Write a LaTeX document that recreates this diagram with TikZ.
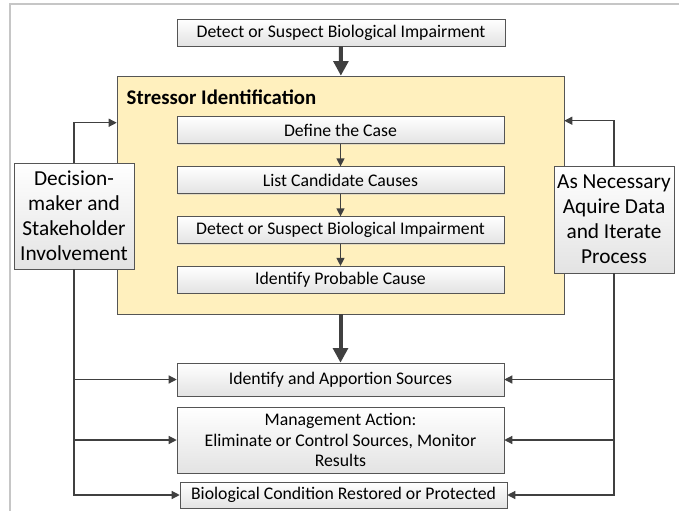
\documentclass[tikz,border=0pt]{standalone}
\usepackage{fontspec}
\setmainfont{Carlito}
\usepackage{tikz}
\usetikzlibrary{positioning, arrows.meta, shadows}

\definecolor{stressyellow}{HTML}{FFF0BE}
\definecolor{boxline}{HTML}{555555}
\definecolor{arrowgray}{HTML}{404040}

\begin{document}
\begin{tikzpicture}[x=0.75pt, y=-0.75pt,
			stepbox/.style={draw=boxline, top color=white, bottom color=gray!22, align=center,
				inner sep=1pt, font=\fontsize{13.3}{15.5}\selectfont,
				drop shadow={shadow xshift=1pt, shadow yshift=-1pt, fill=gray!45}},
			sidebox/.style={stepbox, font=\fontsize{16}{18.75}\selectfont},
			thin/.style={draw=arrowgray, line width=0.9pt, -{Triangle[length=6pt,width=6pt]}},
			fat/.style={draw=arrowgray, line width=3pt, -{Triangle[length=11pt,width=11pt]}},
			]
			\useasboundingbox (0,0) rectangle (679,511);
			\draw[gray!45, line width=2pt] (10,511) -- (10,4) -- (679,4);
			
			%% ── Top and stressor block ───────────────────────────────────────────
			\node[stepbox, minimum width=246pt, minimum height=20.25pt] (detect) at (341,32.5)
				{Detect or Suspect Biological Impairment};
			\node[draw=boxline, fill=stressyellow, minimum width=335.25pt, minimum height=178.5pt,
				drop shadow={shadow xshift=1pt, shadow yshift=-1pt, fill=gray!30}] (stressor) at (340.5,195) {};
			\node[anchor=west, font=\fontsize{15.6}{18}\bfseries] (title) at (122,97) {Stressor Identification};
			
			\node[stepbox, minimum width=245.25pt, minimum height=20pt] (define)   at (340.5,130)   {Define the Case};
			\node[stepbox, minimum width=245.25pt, minimum height=20pt] (list)     at (340.5,180)   {List Candidate Causes};
			\node[stepbox, minimum width=245.25pt, minimum height=20pt] (suspect)  at (340.5,230)   {Detect or Suspect Biological Impairment};
			\node[stepbox, minimum width=245.25pt, minimum height=20pt] (probable) at (340.5,279.5) {Identify Probable Cause};
			
			%% ── Side boxes ───────────────────────────────────────────────────────
			\node[sidebox, minimum width=90pt, minimum height=79.5pt] (decision) at (74,216)
				{Decision-\\maker and\\Stakeholder\\Involvement};
			\node[sidebox, minimum width=90pt, minimum height=80pt] (iterate) at (614,219.5)
				{As Necessary\\Aquire Data\\and Iterate\\Process};
			
			%% ── Bottom boxes ─────────────────────────────────────────────────────
			\node[stepbox, minimum width=245.25pt, minimum height=24.75pt] (apportion) at (340.5,379.5)
				{Identify and Apportion Sources};
			\node[stepbox, minimum width=245.25pt, minimum height=49.5pt] (manage) at (340.5,440)
				{Management Action:\\Eliminate or Control Sources, Monitor\\Results};
			\node[stepbox, minimum width=245.25pt, minimum height=19.5pt] (restored) at (343.5,495)
				{Biological Condition Restored or Protected};
			
			%% ── Connectors ───────────────────────────────────────────────────────
			\draw[fat] (detect) -- (stressor);
			\draw[fat] (stressor) -- (apportion);
			\draw[thin] (define) -- (list);
			\draw[thin] (list) -- (suspect);
			\draw[thin] (suspect) -- (probable);
			
			\draw[thin] (decision.north) |- ([yshift=-35.25pt]stressor.north west);
			\draw[thin] (iterate.north) |- ([yshift=-33.75pt]stressor.north east);
			
			\draw[thin] (decision.south) |- (restored.west);
			\draw[thin] (decision.south |- apportion.west) -- (apportion.west);
			\draw[thin] (decision.south |- manage.west) -- (manage.west);
			\draw[thin] (iterate.south) |- (restored.east);
			\draw[thin] (iterate.south |- apportion.east) -- (apportion.east);
			\draw[thin] (iterate.south |- manage.east) -- (manage.east);
			
		\end{tikzpicture}
\end{document}
